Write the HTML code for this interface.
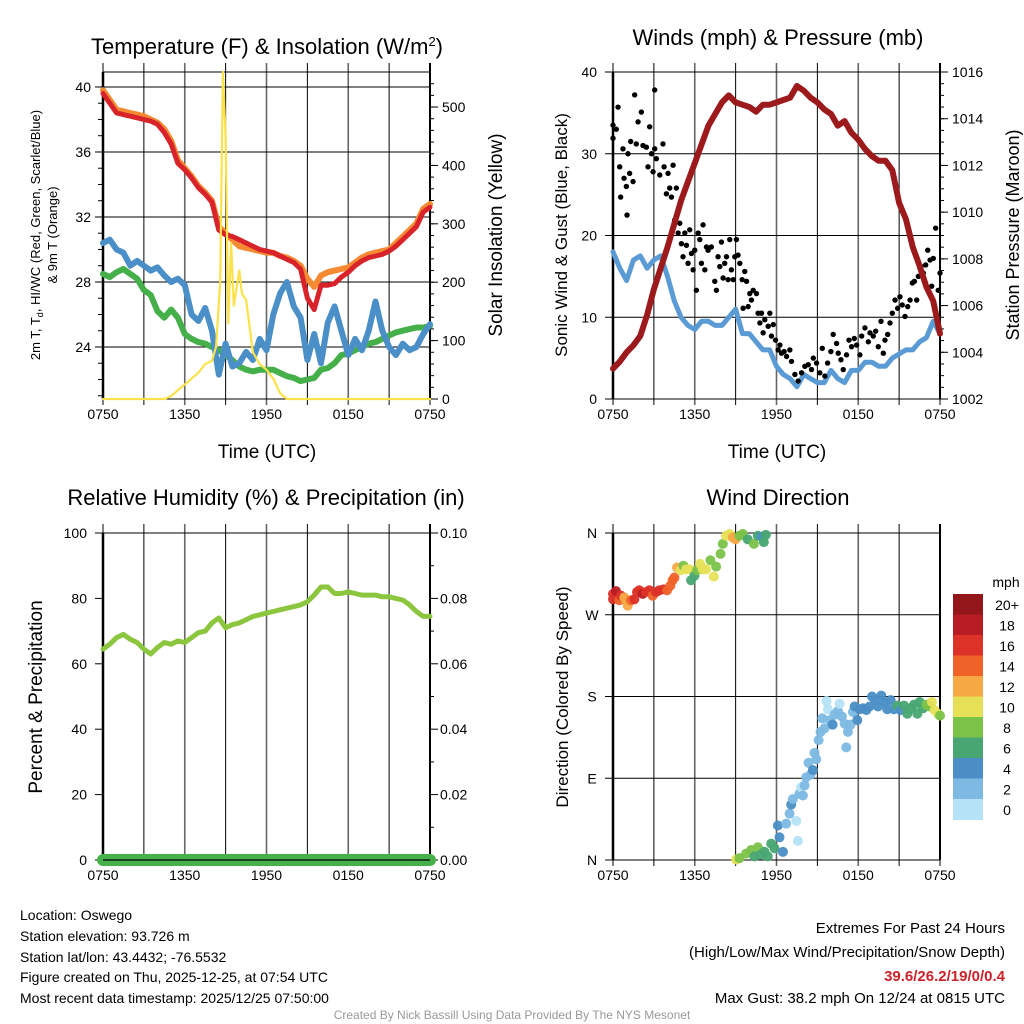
<!DOCTYPE html>
<html><head><meta charset="utf-8"><style>
body{margin:0;background:#fff}
svg{display:block;font-family:"Liberation Sans",sans-serif}
</style></head><body>
<svg id="s" width="1024" height="1024" viewBox="0 0 1024 1024" xmlns="http://www.w3.org/2000/svg">
<g id="g"></g>
<text x="20" y="920" font-size="14">Location: Oswego</text>
<text x="20" y="941" font-size="14">Station elevation: 93.726 m</text>
<text x="20" y="962" font-size="14">Station lat/lon: 43.4432; -76.5532</text>
<text x="20" y="982" font-size="14">Figure created on Thu, 2025-12-25, at 07:54 UTC</text>
<text x="20" y="1003" font-size="14">Most recent data timestamp: 2025/12/25 07:50:00</text>
<text x="1005" y="933" font-size="15" text-anchor="end">Extremes For Past 24 Hours</text>
<text x="1005" y="957" font-size="15" text-anchor="end">(High/Low/Max Wind/Precipitation/Snow Depth)</text>
<text x="1005" y="981" font-size="15" font-weight="bold" fill="#cc2229" text-anchor="end">39.6/26.2/19/0/0.4</text>
<text x="1005" y="1003" font-size="15" text-anchor="end">Max Gust: 38.2 mph On 12/24 at 0815 UTC</text>
<text x="512" y="1019" font-size="12" fill="#999" text-anchor="middle">Created By Nick Bassill Using Data Provided By The NYS Mesonet</text>
</svg>
<script>
// ---------- data ----------
const hours=[0,0.5,1,1.5,2,2.5,3,3.5,4,4.5,5,5.5,6,6.5,7,7.5,8,8.5,9,9.5,10,10.5,11,11.5,12,12.5,13,13.5,14,14.5,15,15.5,16,16.5,17,17.5,18,18.5,19,19.5,20,20.5,21,21.5,22,22.5,23,23.5,24];
const tempRed=[39.6,39.0,38.4,38.3,38.2,38.1,38.0,37.9,37.7,37.2,36.5,35.3,34.9,34.4,33.8,33.4,32.9,31.2,30.9,30.8,30.6,30.4,30.2,30.0,29.9,29.8,29.6,29.4,29.2,28.8,27.0,26.3,27.8,27.8,27.9,28.3,28.6,29.0,29.3,29.5,29.6,29.7,29.9,30.2,30.6,31.0,31.4,32.3,32.6];
const temp9m=[39.8,39.2,38.6,38.5,38.4,38.3,38.2,38.0,37.8,37.4,36.7,35.5,35.0,34.5,33.9,33.5,33.0,31.4,31.0,30.6,30.2,30.1,30.0,29.9,29.8,29.8,29.6,29.5,29.3,29.0,28.2,27.7,28.4,28.6,28.7,28.8,28.9,29.2,29.5,29.7,29.8,29.9,30.0,30.4,30.8,31.2,31.6,32.5,32.8];
const windChill=[30.4,30.6,30.0,29.8,29.0,29.3,29.0,28.7,28.9,28.4,28.0,28.2,27.8,26.0,25.6,26.4,25.0,22.3,24.2,22.8,23.0,23.7,23.2,24.5,23.8,26.0,27.3,28.0,26.5,25.8,23.2,24.8,23.0,25.5,26.5,25.0,23.5,24.5,23.8,25.0,26.8,25.0,24.0,23.5,24.2,23.8,24.0,24.8,25.4];
const dewpoint=[28.5,28.3,28.6,28.8,28.5,28.2,27.5,27.2,26.2,25.8,26.3,25.8,24.8,24.5,24.3,24.2,24.0,23.8,23.5,23.2,22.8,22.6,22.5,22.6,22.6,22.6,22.4,22.2,22.1,21.9,22.0,22.1,22.6,22.7,23.0,23.5,23.6,23.8,24.0,24.2,24.3,24.5,24.7,24.9,25.0,25.1,25.2,25.2,25.3];
const solarHours=[0,4.5,5,5.5,6,6.5,7,7.5,8,8.3,8.6,8.8,9.0,9.2,9.4,9.6,10,10.2,10.5,11,11.5,12,12.5,13,13.5,24];
const solarValues=[0,0,5,15,25,35,45,60,65,90,200,560,450,130,267,160,220,180,170,80,60,50,35,10,0,0];
const windSpeed=[18,16,14.5,17,17.5,16,17,17.5,15,12,10,9,8.5,9.5,9.5,9,9,10,11,8,8,7,6,6,4,3,2.5,1.5,3,2.5,2,2,3.5,2.5,2,3.5,3.5,4.5,4.5,4,4,5,5.5,6,6,7,7.5,9.5,8];
const pressure=[1003.3,1003.6,1004.0,1004.3,1004.7,1005.6,1006.7,1007.6,1008.5,1009.5,1010.5,1011.3,1012.1,1012.9,1013.7,1014.2,1014.7,1015.0,1014.7,1014.6,1014.5,1014.3,1014.6,1014.6,1014.7,1014.8,1014.9,1015.4,1015.2,1014.9,1014.7,1014.4,1014.2,1013.7,1013.9,1013.4,1013.1,1012.7,1012.4,1012.2,1012.2,1011.8,1010.4,1009.7,1008.5,1007.7,1006.8,1006.2,1004.8];
const gustHours=[0,0,0.24,0.37,0.49,0.56,0.73,0.81,0.98,1.03,1.10,1.22,1.30,1.47,1.59,1.71,1.84,2.08,2.20,2.45,2.57,2.69,2.82,2.94,3.06,3.06,3.18,3.43,3.67,3.75,3.92,4.04,4.16,4.29,4.41,4.53,4.65,4.78,4.90,5.02,5.14,5.27,5.39,5.51,5.63,5.76,5.88,6.00,6.12,6.25,6.37,6.49,6.61,6.74,6.86,6.98,7.22,7.47,7.59,7.71,7.84,7.96,8.08,8.20,8.33,8.45,8.57,8.69,8.82,8.94,9.06,9.18,9.31,9.48,9.55,9.67,9.80,9.92,10.04,10.16,10.29,10.53,10.65,10.78,10.90,11.02,11.14,11.39,11.51,11.63,11.76,11.93,12.12,12.25,12.37,12.56,12.74,12.98,13.10,13.35,13.59,13.84,14.08,14.33,14.57,14.70,14.94,15.18,15.36,15.55,15.75,15.99,16.16,16.41,16.53,16.73,16.90,17.14,17.32,17.51,17.71,17.88,18.12,18.25,18.49,18.74,18.86,19.10,19.28,19.47,19.67,19.84,19.96,20.16,20.33,20.50,20.70,20.89,21.06,21.23,21.43,21.63,21.80,21.97,22.12,22.29,22.41,22.61,22.78,22.95,23.10,23.27,23.39,23.51,23.68,23.87,24.0];
const gustValues=[31.9,33.5,33,35.7,28.4,24.7,30.6,27,26,22.5,30,27.6,31.5,26.6,37.2,31.2,33.9,35.1,31,30.8,28.4,33.3,30,27.8,37.8,30.6,29.4,27.4,31.2,28.4,25.1,27.6,25.8,24.7,28.6,21.9,25.8,20.3,21.5,19.0,17.4,20.3,18.8,16.6,20.7,17.8,15.8,18.2,13.3,20.3,19.5,16.6,21.3,15.8,18.6,18.2,18.6,14.4,13.3,17.4,16.2,19.2,14.8,16.6,17.4,14.6,19.5,15.8,14.6,17.4,19.5,17.6,16.6,14.6,11.1,15.6,14.4,11.3,12.9,12.1,13.3,12.9,10.5,9.3,10.5,8.1,9.7,8.9,10.5,7.7,9.1,7.2,6.0,6.6,5.6,5.8,5.2,6.0,4.6,3.0,2.2,3.2,4.0,4.2,3.6,5.0,4.4,3.2,6.2,2.8,4.4,5.8,7.9,6.8,5.6,4.8,3.6,5.4,7.2,6.4,7.4,6.6,5.4,7.7,8.7,7.0,8.1,7.7,8.3,6.4,9.5,5.6,7.2,7.9,9.3,10.5,12.1,11.1,12.5,11.5,10.1,11.3,12.1,14.2,14.4,12.1,15.0,16.2,15.4,16.4,18.2,17.0,13.8,17.2,20.9,13.3,15.4];
const rhValues=[64.5,66,68,69,67.5,66.5,64.5,63,65,66.5,66,67,66.5,68,69.5,70,72.5,74,71,72,72.5,73.5,74.5,75,75.5,76,76.5,77,77.5,78,79,81,83.5,83.5,81.5,81.5,82,81.5,81,81,81,80.5,80.5,80,79.5,78,76,74.5,74.5];
const precipValues=[0,0,0,0,0,0,0,0,0,0,0,0,0,0,0,0,0,0,0,0,0,0,0,0,0,0,0,0,0,0,0,0,0,0,0,0,0,0,0,0,0,0,0,0,0,0,0,0,0];
const dirHours=[0,0,0.22,0.47,0.59,0.83,0.96,1.08,1.32,1.57,1.76,1.93,2.18,2.42,2.67,2.91,3.16,3.40,3.72,3.97,4.21,4.38,4.51,4.70,4.95,5.17,5.36,5.61,5.73,5.98,6.17,6.39,6.59,6.83,7.15,7.40,7.57,7.89,8.06,8.30,8.55,8.79,8.99,9.28,9.53,9.89,10.34,10.63,10.92,11.07,11.22,9.04,9.28,9.77,10.14,10.38,10.63,10.83,11.12,11.36,11.61,11.85,12.10,12.22,12.47,12.71,12.96,13.08,13.20,13.45,13.57,13.69,13.81,13.94,14.06,14.18,14.35,14.50,14.67,14.79,14.92,15.09,15.23,15.36,15.53,15.67,15.77,15.92,16.12,16.26,16.51,16.63,16.80,17.00,17.12,17.24,17.44,17.61,17.73,17.93,18.10,18.34,18.59,18.83,19.01,19.25,19.45,19.69,19.94,20.13,20.38,20.62,20.87,21.11,21.36,21.60,21.85,22.09,22.34,22.51,22.75,23.0,23.24,23.41,23.61,23.85,24.0];
const dirValues=[287,293,296,286,291,289,286,280,286,287,295,297,293,295,297,291,295,297,298,297,302,308,311,322,319,324,320,320,308,313,319,326,320,320,330,312,323,337,348,357,359,355,353,357,359,353,348,357,356,350,358,0.5,2,7,11,4,14,6,9,4,18,13,38,25,9,40,51,61,67,43,21,73,80,71,82,91,107,94,99,118,111,132,141,156,145,175,166,154,149,160,164,172,158,150,124,141,149,163,169,154,166,167,165,169,180,176,169,181,174,166,176,166,170,165,170,161,167,171,161,174,167,171,169,174,165,161,159];
const dirSpeeds=[17,17,18,14,16,13,12,12,14,17,17,17,18,16,17,14,17,17,17,15,14,15,14,12,10,8,10,10,7,7,8,10,10,10,8,10,8,8,8,10,10,12,12,9,8,6,8,6,4,6,6,10,9,8,8,6,8,6,6,6,6,6,4,4,4,2,2,4,2,1,1,2,1,2,2,2,2,2,4,2,2,2,2,2,2,1,0,2,4,2,2,1,2,2,2,2,2,2,4,4,4,4,4,4,4,4,4,4,4,4,4,4,6,4,6,6,6,6,6,6,6,8,8,10,10,10,8,8];
const speedLabels=["0","2","4","6","8","10","12","14","16","18","20+"];
const speedColors=["#b5e2f7","#7db9e3","#4a8ec5","#48a672","#7bc249","#e6e056","#f6a844","#ef6329","#dc3228","#ba1c24","#93161b"];
const xTickLabels=["0750","1350","1950","0150","0750"];

// ---------- helpers ----------
const NS="http://www.w3.org/2000/svg";
const G=document.getElementById('g');
function mk(tag,attrs,parent){const e=document.createElementNS(NS,tag);for(const k in attrs)e.setAttribute(k,attrs[k]);(parent||G).appendChild(e);return e;}
function txt(x,y,s,size,anchor,rot){const e=mk('text',{x:x,y:y,'font-size':size,'text-anchor':anchor||'middle'});if(rot)e.setAttribute('transform','rotate(-90 '+x+' '+y+')');e.textContent=s;return e;}
const W=327;
function xs(x0){return h=>x0+h/24*W;}
function ys(top,bot,min,max){return v=>bot-(v-min)/(max-min)*(bot-top);}
function poly(xa,ya,xf,yf,color,width,name){
  const pts=xa.map((h,i)=>xf(h).toFixed(1)+','+yf(ya[i]).toFixed(1)).join(' ');
  const p=mk('polyline',{points:pts,fill:'none',stroke:color,'stroke-width':width,'stroke-linejoin':'round','stroke-linecap':'round'});
  
  
  return p;
}
function frame(x0,top,bot,name){
  const g=mk('g',{});
  
  
  for(let i=0;i<=8;i++){
    const x=x0+i*W/8;
    const lab=(i%2==0&&i>0&&i<8);
    mk('line',{x1:x,x2:x,y1:top-9,y2:bot+6,stroke:lab?'#666':'#000','stroke-width':lab?1.6:1},g);
  }
  mk('line',{x1:x0,x2:x0+W,y1:top,y2:top,stroke:'#000','stroke-width':1},g);
  mk('line',{x1:x0,x2:x0+W,y1:bot,y2:bot,stroke:'#000','stroke-width':1},g);
  mk('line',{x1:x0,x2:x0,y1:top,y2:bot,stroke:'#000','stroke-width':2.5},g);
  mk('line',{x1:x0+W,x2:x0+W,y1:top-9,y2:bot,stroke:'#000','stroke-width':2},g);
  xTickLabels.forEach((s,i)=>{const t=txt(x0+i*W/4,bot+20,s,14);});
  return g;
}
function hgrid(x0,yv,vals,yf){vals.forEach(v=>{const l=mk('line',{x1:x0-8,x2:x0+W,y1:yf(v),y2:yf(v),stroke:'#000','stroke-width':1});});}
function lticks(x0,vals,yf,len){vals.forEach(v=>mk('line',{x1:x0-len,x2:x0,y1:yf(v),y2:yf(v),stroke:'#000','stroke-width':1}));}
function rticks(x0,vals,yf,len){vals.forEach(v=>mk('line',{x1:x0+W,x2:x0+W+len,y1:yf(v),y2:yf(v),stroke:'#000','stroke-width':1}));}
function range(a,b,s){const r=[];for(let v=a;v<=b+1e-9;v+=s)r.push(+v.toFixed(4));return r;}

// ---------- panel 1: temperature ----------
(function(){
  const x0=103,top=72,bot=399,xf=xs(x0);
  const yT=ys(top,bot,20.8,40.92), yS=ys(top,bot,0,560);
  frame(x0,top,bot,'temperature-plot-frame');
  hgrid(x0,0,[24,28,32,36,40],yT);
  lticks(x0,range(21,40,1),yT,5);
  rticks(x0,[0,100,200,300,400,500],yS,8);
  rticks(x0,range(20,540,20),yS,4);
  [24,28,32,36,40].forEach(v=>{const t=txt(x0-12,yT(v)+5,String(v),14,'end');});
  [0,100,200,300,400,500].forEach(v=>{const t=txt(x0+W+12,yS(v)+5,String(v),14,'start');});
  poly(hours,dewpoint,xf,yT,'#45b04a',6,'dewpoint-line');
  poly(hours,windChill,xf,yT,'#4b8fc9',6,'wind-chill-line');
  poly(hours,temp9m,xf,yT,'#f58a33',6,'temp-9m-line');
  poly(hours,tempRed,xf,yT,'#d8232a',5,'temp-2m-line');
  poly(solarHours,solarValues,xf,yS,'#fbe24a',2.2,'solar-insolation-line');
  const t=mk('text',{x:267,y:54,'font-size':22,'text-anchor':'middle'});t.innerHTML='Temperature (F) &amp; Insolation (W/m<tspan dy="-8" font-size="13">2</tspan><tspan dy="8">)</tspan>';
  
  const a=txt(267,458,'Time (UTC)',19);
  const r=txt(502,235,'Solar Insolation (Yellow)',19,'middle',true);
  const l1=mk('text',{x:40,y:235,'font-size':13,'text-anchor':'middle',transform:'rotate(-90 40 235)'});l1.innerHTML='2m T, T<tspan dy="3" font-size="9">d</tspan><tspan dy="-3">, HI/WC (Red, Green, Scarlet/Blue)</tspan>';
  
  const l2=txt(57,235,'& 9m T (Orange)',13,'middle',true);
})();

// ---------- panel 2: winds ----------
(function(){
  const x0=613,top=72,bot=399,xf=xs(x0);
  const yW=ys(top,bot,0,40), yP=ys(top,bot,1002,1016);
  frame(x0,top,bot,'winds-plot-frame');
  hgrid(x0,0,[10,20,30,40],yW);
  lticks(x0,[0],yW,8);
  rticks(x0,range(1002,1016,2),yP,8);
  rticks(x0,range(1002.5,1015.5,0.5),yP,4);
  [0,10,20,30,40].forEach(v=>{const t=txt(x0-16,yW(v)+5,String(v),14,'end');});
  range(1002,1016,2).forEach(v=>{const t=txt(x0+W+12,yP(v)+5,String(v),14,'start');});
  poly(hours,windSpeed,xf,yW,'#5b9bd5',5,'sonic-wind-line');
  gustHours.forEach((h,i)=>{const c=mk('circle',{cx:xf(h),cy:yW(gustValues[i]),r:2.7,fill:'#000'});});
  poly(hours,pressure,xf,yP,'#9c1a1c',6,'pressure-line');
  const t=txt(778,45,'Winds (mph) & Pressure (mb)',22);
  const a=txt(777,458,'Time (UTC)',19);
  const l=txt(567,235,'Sonic Wind & Gust (Blue, Black)',17,'middle',true);
  const r=txt(1019,235,'Station Pressure (Maroon)',18,'middle',true);
})();

// ---------- panel 3: humidity ----------
(function(){
  const x0=103,top=533,bot=860,xf=xs(x0);
  const yR=ys(top,bot,0,100), yQ=ys(top,bot,0,0.1);
  frame(x0,top,bot,'humidity-plot-frame');
  lticks(x0,[0,20,40,60,80,100],yR,8);
  rticks(x0,range(0,0.1,0.02),yQ,8);
  rticks(x0,range(0.01,0.09,0.02),yQ,4);
  [0,20,40,60,80,100].forEach(v=>{const t=txt(x0-16,yR(v)+5,String(v),14,'end');});
  ['0.00','0.02','0.04','0.06','0.08','0.10'].forEach((s,i)=>{const t=txt(x0+W+10,yQ(i*0.02)+5,s,14,'start');});
  poly(hours,precipValues,xf,yQ,'#46b14a',12,'precip-line');
  mk('line',{x1:x0,x2:x0+W,y1:bot,y2:bot,stroke:'#000','stroke-width':1.2});
  poly(hours,rhValues,xf,yR,'#8cc63f',5,'rh-line');
  const t=txt(266,505,'Relative Humidity (%) & Precipitation (in)',22);
  const l=txt(42,697,'Percent & Precipitation',19,'middle',true);
})();

// ---------- panel 4: direction ----------
(function(){
  const x0=613,top=533,bot=860,xf=xs(x0);
  const yD=ys(top,bot,0,360);
  frame(x0,top,bot,'direction-plot-frame');
  hgrid(x0,0,[90,180,270,360],yD);
  lticks(x0,[0],yD,8);
  [['N',0],['E',90],['S',180],['W',270],['N',360]].forEach(d=>{const t=txt(592,yD(d[1])+5,d[0],14,'middle');});
  dirHours.forEach((h,i)=>{
    const bin=Math.min(10,Math.floor(dirSpeeds[i]/2));
    const c=mk('circle',{cx:xf(h),cy:yD(dirValues[i]),r:5,fill:speedColors[bin],opacity:0.95});
    
    
  });
  const t=txt(778,505,'Wind Direction',22);
  const l=txt(568,697,'Direction (Colored By Speed)',17,'middle',true);
  const bx=953,btop=594,bh=20.5;
  for(let i=10;i>=0;i--){
    const yy=btop+(10-i)*bh;
    const r=mk('rect',{x:bx,y:yy,width:30,height:bh+0.5,fill:speedColors[i]});
    
    
    const tl=txt(1007,yy+16,speedLabels[i],14,'middle');
    
    
  }
  const m=txt(1006,587,'mph',14,'middle');
})();
</script>
</body></html>
